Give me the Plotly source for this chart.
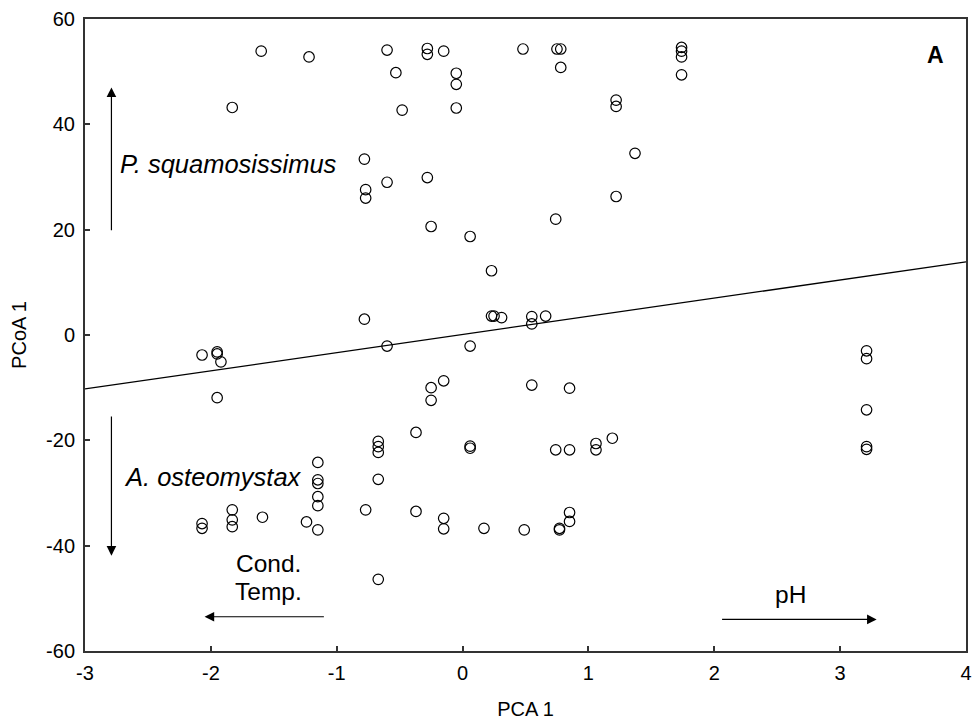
import plotly.graph_objects as go

# PCA 1 scores (x) and PCoA 1 scores (y)
pca1 = [-1.60, -1.22, -1.83, -0.60, -0.28, -0.28, -0.15, 0.48, 0.75, 0.78,
        0.78, -0.53, -0.05, -0.05, -0.48, -0.05, 1.22, 1.22, 1.37, 1.74,
        1.74, 1.74, 1.74, -0.78, -0.77, -0.77, -0.60, -0.28, 1.22, -0.25,
        0.06, 0.74, 0.23, 0.23, 0.25, 0.31, 0.55, 0.55, 0.66, -0.78,
        -2.07, -1.95, -1.95, -1.92, -1.95, -0.60, 0.06, -0.15, -0.25, -0.25,
        0.55, 0.85, 3.21, 3.21, 3.21, 3.21, 3.21, -0.67, -0.67, -0.67,
        -0.67, -0.77, -0.67, -1.15, -1.15, -1.15, -1.15, -1.15, -1.15, -1.24,
        -1.59, -1.83, -1.83, -1.83, -2.07, -2.07, -0.37, 0.06, 0.06, 0.74,
        0.85, 1.06, 1.06, 1.19, -0.37, -0.15, -0.15, 0.17, 0.49, 0.77,
        0.77, 0.85, 0.85]
pcoa1 = [53.9, 52.8, 43.2, 54.1, 54.4, 53.3, 53.9, 54.3, 54.3, 54.3,
         50.8, 49.8, 49.7, 47.6, 42.7, 43.1, 44.6, 43.4, 34.5, 54.6,
         53.9, 52.8, 49.4, 33.4, 27.6, 26.0, 29.0, 29.9, 26.3, 20.6,
         18.7, 22.0, 12.2, 3.6, 3.6, 3.3, 3.5, 2.1, 3.6, 3.0,
         -3.8, -3.2, -3.6, -5.1, -11.9, -2.1, -2.1, -8.7, -10.0, -12.4,
         -9.5, -10.1, -3.0, -4.5, -14.2, -21.2, -21.7, -20.2, -21.2, -22.3,
         -27.4, -33.2, -46.4, -24.2, -27.5, -28.2, -30.7, -32.4, -37.0, -35.5,
         -34.6, -33.2, -35.1, -36.4, -35.8, -36.7, -18.5, -21.1, -21.5, -21.8,
         -21.8, -20.6, -21.8, -19.6, -33.5, -34.8, -36.8, -36.7, -37.0, -36.7,
         -37.0, -33.7, -35.4]

# regression line end points
fit_x = [-3, 4]
fit_y = [-10.25, 13.9]

x_ticks = [-3, -2, -1, 0, 1, 2, 3, 4]
y_ticks = [-60, -40, -20, 0, 20, 40, 60]

FONT = "Liberation Sans, Arial, sans-serif"

fig = go.Figure()
fig.add_trace(go.Scatter(x=fit_x, y=fit_y, mode="lines",
                         line=dict(color="black", width=1.3),
                         showlegend=False, hoverinfo="skip"))
fig.add_trace(go.Scatter(x=pca1, y=pcoa1, mode="markers",
                         marker=dict(symbol="circle-open", size=10.5,
                                     color="black", line=dict(width=1.2, color="black")),
                         showlegend=False))

arrows = [
    # (head_x, head_y, tail_x, tail_y)
    (-2.79, 47.0, -2.79, 19.6),
    (-2.79, -41.9, -2.79, -15.2),
    (-2.05, -53.5, -1.09, -53.5),
    (3.29, -54.0, 2.05, -54.0),
]
for hx, hy, tx, ty in arrows:
    fig.add_annotation(x=hx, y=hy, ax=tx, ay=ty, xref="x", yref="y",
                       axref="x", ayref="y", text="", showarrow=True,
                       arrowhead=2, arrowsize=1.6, arrowwidth=1.2,
                       arrowcolor="black", standoff=0, startstandoff=0)

texts = [
    ("<i>P. squamosissimus</i>", -2.74, 32.4, "left", 25.5),
    ("<i>A. osteomystax</i>", -2.71, -27.0, "left", 25.5),
    ("Cond.", -1.54, -43.3, "center", 24.5),
    ("Temp.", -1.54, -48.7, "center", 24.5),
    ("pH", 2.605, -49.2, "center", 24.5),
    ("<b>A</b>", 3.757, 53.2, "center", 23),
]
for t, x, y, anc, sz in texts:
    fig.add_annotation(x=x, y=y, xref="x", yref="y", text=t, showarrow=False,
                       xanchor=anc, yanchor="middle",
                       font=dict(family=FONT, size=sz, color="black"))

axis_common = dict(showline=True, mirror=True, linecolor="#333333", linewidth=2,
                   ticks="inside", ticklen=5, tickwidth=1.5, tickcolor="#333333",
                   showgrid=False, zeroline=False, automargin=False,
                   tickfont=dict(family=FONT, size=20, color="black"))

fig.update_xaxes(range=[-3, 4], tickvals=x_ticks, ticktext=[str(v) for v in x_ticks],
                 ticklabelstandoff=3,
                 title=dict(text="PCA 1", font=dict(family=FONT, size=20, color="black"), standoff=19),
                 **axis_common)
fig.update_yaxes(range=[-60, 60], tickvals=y_ticks, ticktext=[str(v) for v in y_ticks],
                 ticklabelstandoff=4,
                 title=dict(text="PCoA 1", font=dict(family=FONT, size=20, color="black"), standoff=14),
                 **axis_common)

fig.update_layout(width=975, height=724, margin=dict(l=85, r=9, t=19, b=73),
                  plot_bgcolor="white", paper_bgcolor="white",
                  font=dict(family=FONT, color="black"))

fig.write_html("out.html")
